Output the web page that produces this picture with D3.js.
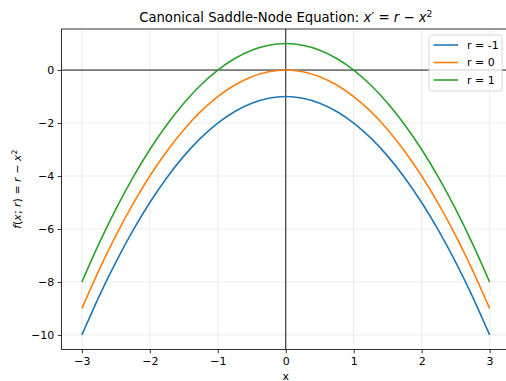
<!DOCTYPE html>
<html>
<head>
<meta charset="utf-8">
<script src="https://cdn.jsdelivr.net/npm/d3@7"></script>
<style>
  html, body { margin: 0; padding: 0; background: #fff; }
  svg { display: block; font-family: "DejaVu Sans", sans-serif; }
</style>
</head>
<body>
<svg id="chart" width="506" height="381"></svg>
<script>
// Sample positions along x
const xValues = [-3, -2.75, -2.5, -2.25, -2, -1.75, -1.5, -1.25, -1, -0.75, -0.5, -0.25, 0,
                 0.25, 0.5, 0.75, 1, 1.25, 1.5, 1.75, 2, 2.25, 2.5, 2.75, 3];
// f(x; r) for each r
const seriesRneg1 = [-10, -8.5625, -7.25, -6.0625, -5, -4.0625, -3.25, -2.5625, -2, -1.5625, -1.25, -1.0625, -1,
                     -1.0625, -1.25, -1.5625, -2, -2.5625, -3.25, -4.0625, -5, -6.0625, -7.25, -8.5625, -10];
const seriesR0 = [-9, -7.5625, -6.25, -5.0625, -4, -3.0625, -2.25, -1.5625, -1, -0.5625, -0.25, -0.0625, 0,
                  -0.0625, -0.25, -0.5625, -1, -1.5625, -2.25, -3.0625, -4, -5.0625, -6.25, -7.5625, -9];
const seriesRpos1 = [-8, -6.5625, -5.25, -4.0625, -3, -2.0625, -1.25, -0.5625, 0, 0.4375, 0.75, 0.9375, 1,
                     0.9375, 0.75, 0.4375, 0, -0.5625, -1.25, -2.0625, -3, -4.0625, -5.25, -6.5625, -8];
const seriesLabels = ["r = -1", "r = 0", "r = 1"];
const seriesColors = ["#1f77b4", "#ff7f0e", "#2ca02c"];
const xTicks = [-3, -2, -1, 0, 1, 2, 3];
const yTicks = [0, -2, -4, -6, -8, -10];

const series = [seriesRneg1, seriesR0, seriesRpos1].map((vals, i) => ({
  label: seriesLabels[i],
  color: seriesColors[i],
  points: xValues.map((x, j) => [x, vals[j]])
}));

const svg = d3.select("#chart");
const plotLeft = 61.5, plotTop = 29, plotW = 448.5, plotBottom = 349.5;

const x = d3.scaleLinear().domain([-3.3, 3.3]).range([plotLeft, plotLeft + plotW]);
const y = d3.scaleLinear().domain([-10.55, 1.55]).range([plotBottom, plotTop]);

const clipId = "plotclip";
svg.append("defs").append("clipPath").attr("id", clipId)
  .append("rect").attr("x", plotLeft).attr("y", plotTop).attr("width", plotW).attr("height", plotBottom - plotTop);

// Grid
const grid = svg.append("g").attr("stroke", "#b0b0b0").attr("stroke-opacity", 0.3).attr("stroke-width", 0.8);
xTicks.forEach(t => grid.append("line").attr("x1", x(t)).attr("x2", x(t)).attr("y1", plotTop).attr("y2", plotBottom));
yTicks.forEach(t => grid.append("line").attr("x1", plotLeft).attr("x2", plotLeft + plotW).attr("y1", y(t)).attr("y2", y(t)));

// Reference axes through the origin
svg.append("line").attr("x1", plotLeft).attr("x2", plotLeft + plotW).attr("y1", y(0)).attr("y2", y(0))
  .attr("stroke", "#000").attr("stroke-width", 0.9);
svg.append("line").attr("x1", x(0)).attr("x2", x(0)).attr("y1", plotTop).attr("y2", plotBottom)
  .attr("stroke", "#000").attr("stroke-width", 0.9);

// Curves
const line = d3.line().x(d => x(d[0])).y(d => y(d[1])).curve(d3.curveNatural);
svg.append("g").attr("clip-path", `url(#${clipId})`)
  .selectAll("path").data(series).join("path")
  .attr("d", d => line(d.points))
  .attr("fill", "none")
  .attr("stroke", d => d.color)
  .attr("stroke-width", 1.6);

// Axes
const fmt = d => d < 0 ? "\u2212" + Math.abs(d) : String(d);
const xAxis = d3.axisBottom(x).tickValues(xTicks).tickSize(3.8).tickPadding(3.5).tickFormat(fmt);
const yAxis = d3.axisLeft(y).tickValues(yTicks).tickSize(3.8).tickPadding(3.5).tickFormat(fmt);

const gx = svg.append("g").attr("transform", `translate(0,${plotBottom})`).call(xAxis);
const gy = svg.append("g").attr("transform", `translate(${plotLeft},0)`).call(yAxis);
[gx, gy].forEach(g => {
  g.select(".domain").remove();
  g.selectAll("text").attr("font-size", 11).attr("fill", "#000").attr("font-family", "DejaVu Sans");
  g.selectAll("line").attr("stroke", "#000").attr("stroke-width", 0.8);
});

// Frame
svg.append("rect").attr("x", plotLeft).attr("y", plotTop).attr("width", plotW).attr("height", plotBottom - plotTop)
  .attr("fill", "none").attr("stroke", "#000").attr("stroke-width", 0.8);

// Title
const title = svg.append("text").attr("x", plotLeft + plotW / 2).attr("y", 22)
  .attr("text-anchor", "middle").attr("font-size", 13.2).attr("fill", "#000");
title.append("tspan").text("Canonical Saddle-Node Equation: ");
title.append("tspan").attr("font-style", "italic").text("x");
title.append("tspan").text("\u2032 = ");
title.append("tspan").attr("font-style", "italic").text("r");
title.append("tspan").text(" \u2212 ");
title.append("tspan").attr("font-style", "italic").text("x");
title.append("tspan").attr("font-size", 9.2).attr("dy", -5).text("2");

// Axis labels
svg.append("text").attr("x", x(0)).attr("y", 380).attr("text-anchor", "middle")
  .attr("font-size", 11).attr("fill", "#000").text("x");

const yl = svg.append("text").attr("transform", `translate(21,${(plotTop + plotBottom) / 2}) rotate(-90)`)
  .attr("text-anchor", "middle").attr("font-size", 11).attr("fill", "#000");
yl.append("tspan").attr("font-style", "italic").text("f");
yl.append("tspan").text("(");
yl.append("tspan").attr("font-style", "italic").text("x");
yl.append("tspan").text("; ");
yl.append("tspan").attr("font-style", "italic").text("r");
yl.append("tspan").text(") = ");
yl.append("tspan").attr("font-style", "italic").text("r");
yl.append("tspan").text(" \u2212 ");
yl.append("tspan").attr("font-style", "italic").text("x");
yl.append("tspan").attr("font-size", 7.7).attr("dy", -4).text("2");

// Legend
const legend = svg.append("g").attr("transform", "translate(429,35)");
legend.append("rect").attr("width", 73).attr("height", 56).attr("rx", 2.5)
  .attr("fill", "#fff").attr("fill-opacity", 0.8).attr("stroke", "#cccccc").attr("stroke-width", 0.8);
series.forEach((s, i) => {
  const row = legend.append("g").attr("transform", `translate(0,${10 + i * 17.5})`);
  row.append("line").attr("x1", 4.5).attr("x2", 29).attr("stroke", s.color).attr("stroke-width", 1.6);
  row.append("text").attr("x", 38).attr("dy", "0.35em").attr("font-size", 11).attr("fill", "#000").text(s.label);
});
</script>
</body>
</html>
